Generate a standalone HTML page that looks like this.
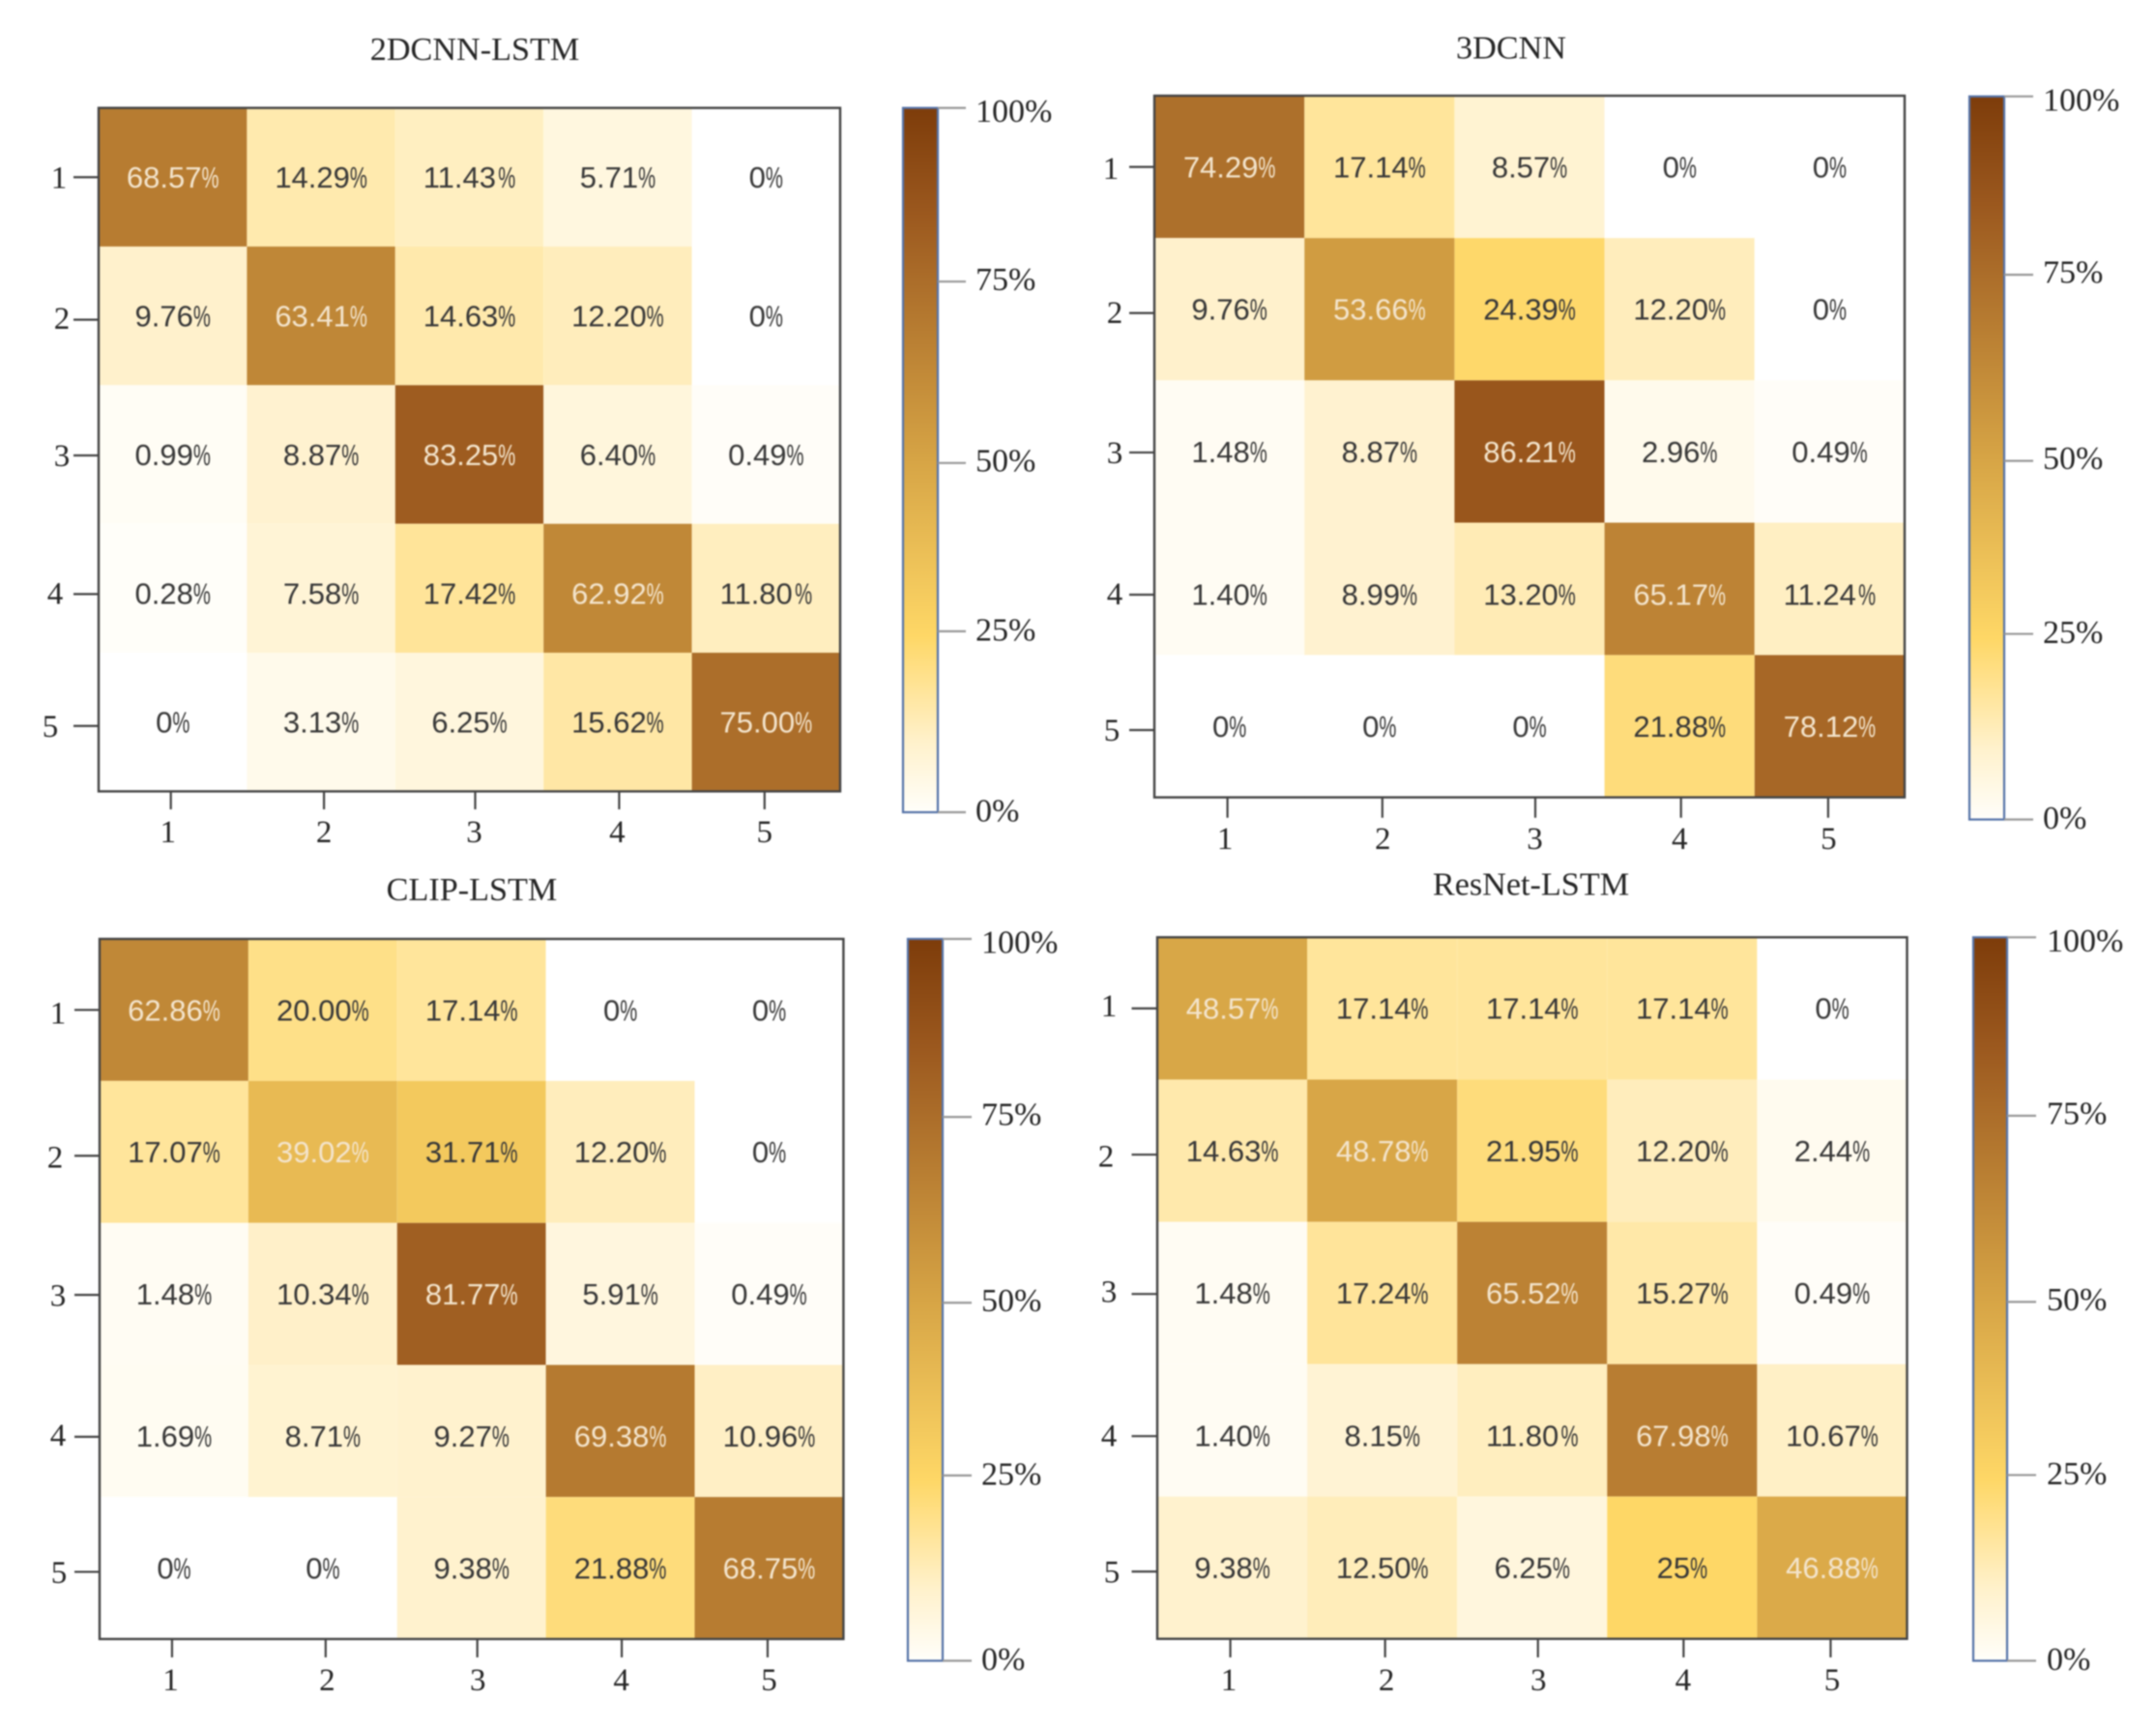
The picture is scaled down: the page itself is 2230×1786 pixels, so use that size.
<!DOCTYPE html>
<html lang="en">
<head>
<meta charset="utf-8">
<title>Confusion matrices</title>
<style>
html,body{margin:0;padding:0;background:#fff;}
#figure{display:block;width:2230px;height:1786px;filter:blur(0.7px);}
.serif{font-family:"Liberation Serif",serif;fill:#262626;}
.sans{font-family:"Liberation Sans",sans-serif;}
</style>
</head>
<body>
<svg id="figure" xmlns="http://www.w3.org/2000/svg" width="2230" height="1786" viewBox="0 0 2230 1786"></svg>
<script>
// ---- data ----
const categories = ['1', '2', '3', '4', '5'];
const colorbarTicks = [0, 25, 50, 75, 100];

const titleCnnLstm = '2DCNN-LSTM';
const values2dCnnLstm = [
  [68.57, 14.29, 11.43, 5.71, 0],
  [9.76, 63.41, 14.63, 12.20, 0],
  [0.99, 8.87, 83.25, 6.40, 0.49],
  [0.28, 7.58, 17.42, 62.92, 11.80],
  [0, 3.13, 6.25, 15.62, 75.00]
];

const title3dCnn = '3DCNN';
const values3dCnn = [
  [74.29, 17.14, 8.57, 0, 0],
  [9.76, 53.66, 24.39, 12.20, 0],
  [1.48, 8.87, 86.21, 2.96, 0.49],
  [1.40, 8.99, 13.20, 65.17, 11.24],
  [0, 0, 0, 21.88, 78.12]
];

const titleClipLstm = 'CLIP-LSTM';
const valuesClipLstm = [
  [62.86, 20.00, 17.14, 0, 0],
  [17.07, 39.02, 31.71, 12.20, 0],
  [1.48, 10.34, 81.77, 5.91, 0.49],
  [1.69, 8.71, 9.27, 69.38, 10.96],
  [0, 0, 9.38, 21.88, 68.75]
];

const titleResNetLstm = 'ResNet-LSTM';
const valuesResNetLstm = [
  [48.57, 17.14, 17.14, 17.14, 0],
  [14.63, 48.78, 21.95, 12.20, 2.44],
  [1.48, 17.24, 65.52, 15.27, 0.49],
  [1.40, 8.15, 11.80, 67.98, 10.67],
  [9.38, 12.50, 6.25, 25, 46.88]
];

// ---- colour scale ----
const colorDomain = [0, 10, 25, 50, 75, 85, 100];
const colorRange = [[255, 254, 250], [255, 241, 203], [254, 215, 102], [214, 164, 69], [172, 110, 42], [155, 88, 30], [125, 60, 10]];

function colorFor(v) {
  if (v <= 0) return '#ffffff';
  for (let i = 1; i < colorDomain.length; i++) {
    if (v <= colorDomain[i]) {
      const t = (v - colorDomain[i - 1]) / (colorDomain[i] - colorDomain[i - 1]);
      const a = colorRange[i - 1], b = colorRange[i];
      return 'rgb(' + a.map((c, k) => Math.round(c + (b[k] - c) * t)).join(',') + ')';
    }
  }
  return 'rgb(' + colorRange[colorRange.length - 1].join(',') + ')';
}

// ---- layout (not data) ----
const rowWeights = [1, 1, 1, 0.93, 1];
const rowTextBias = [0, 0, 0, 5.5, 0];
const xTickBias = [-2, 3, 6, 1.5, -1.5];
const yTickBias = [0, 4, 1, 6, 4];
const xLabelBias = [-3, 0, -1, -2, 0];
const yLabelBias = [0, -2, 0, -1, 0];
const barTickBias = [0, -5, 3, -2.5, 0];
const barLabelBias = [-2, -2, -3, -3, 3];

const panels = [
  { key: '2dcnn-lstm', title: titleCnnLstm, values: values2dCnnLstm,
    x0: 102, x1: 869, y0: 111.6, y1: 818.4, titleX: 491, titleY: 51,
    barX0: 934, barX1: 970, barY0: 111.6, barY1: 840, barTickEnd: 999, barLabelX: 1009, xTickEnd: 837, xLabelY: 860, yTickStart: 76, yLabelX: 59,
    yLabelDx: [2, 5, 5, -2, -7], yLabelDy: [0, 0, 0, 0, 0], xLabelDx: 0 },
  { key: '3dcnn', title: title3dCnn, values: values3dCnn,
    x0: 1194, x1: 1970, y0: 99, y1: 824.6, titleX: 1563, titleY: 49.5,
    barX0: 2037, barX1: 2073, barY0: 99.7, barY1: 847.5, barTickEnd: 2103, barLabelX: 2113, xTickEnd: 845.7, xLabelY: 867, yTickStart: 1168, yLabelX: 1152,
    yLabelDx: [-3, 1, 1, 1, -2], yLabelDy: [1, 1, 0, 0, 0], xLabelDx: 0.5 },
  { key: 'clip-lstm', title: titleClipLstm, values: valuesClipLstm,
    x0: 103, x1: 872.4, y0: 971, y1: 1695, titleX: 488, titleY: 920,
    barX0: 939, barX1: 975, barY0: 971, barY1: 1717.5, barTickEnd: 1005, barLabelX: 1015, xTickEnd: 1714, xLabelY: 1737, yTickStart: 77, yLabelX: 59,
    yLabelDx: [1, -2, 1, 1, 2], yLabelDy: [3, 3, 0, -1, 0], xLabelDx: 1.5 },
  { key: 'resnet-lstm', title: titleResNetLstm, values: valuesResNetLstm,
    x0: 1197, x1: 1972.5, y0: 969.3, y1: 1694.8, titleX: 1583.5, titleY: 914.6,
    barX0: 2041, barX1: 2076, barY0: 969.3, barY1: 1717.5, barTickEnd: 2106, barLabelX: 2117, xTickEnd: 1714, xLabelY: 1737, yTickStart: 1170.5, yLabelX: 1147,
    yLabelDx: [0, -3, 0, 0, 3], yLabelDy: [-3, 3, -3, 0, 0], xLabelDx: 1.5 }
];

// ---- helpers ----
const NS = 'http://www.w3.org/2000/svg';
const svg = document.getElementById('figure');

function make(tag, attrs, parent, text) {
  const node = document.createElementNS(NS, tag);
  for (const k in attrs) node.setAttribute(k, attrs[k]);
  if (text !== undefined) node.textContent = text;
  parent.appendChild(node);
  return node;
}

// band axis: index -> [start, end], bands sized by weights
function bandAxis(start, end, weights) {
  const total = weights.reduce((a, b) => a + b, 0);
  const unit = (end - start) / total;
  return function (i) {
    let s = start;
    for (let k = 0; k < i; k++) s += weights[k] * unit;
    return [s, s + weights[i] * unit];
  };
}

function linearAxis(d0, d1, r0, r1) {
  return v => r0 + (v - d0) / (d1 - d0) * (r1 - r0);
}

function formatValue(v) {
  if (v === 0 || v === 25) return v + '%';
  return v.toFixed(2) + '%';
}

const CELL_FONT = 31;
const PCT_WIDTH = 18;
const TICK_FONT = 33;
const BAR_FONT = 34;
const TITLE_FONT = 34.2;

function numberWidth(str) {
  let w = 0;
  for (const ch of str) w += (ch === '.' ? 0.278 : 0.556);
  return w * CELL_FONT;
}

// ---- draw ----
panels.forEach(function (p, pi) {
  const g = make('g', {}, svg);
  
  

  const title = make('text', { x: p.titleX, y: p.titleY + 11, 'text-anchor': 'middle', 'font-size': TITLE_FONT, class: 'serif' }, g, p.title);
  
  

  const xBand = bandAxis(p.x0, p.x1, categories.map(() => 1));
  const yBand = bandAxis(p.y0, p.y1, rowWeights);

  // cells
  p.values.forEach(function (row, r) {
    row.forEach(function (v, c) {
      const [xa, xb] = xBand(c);
      const [ya, yb] = yBand(r);
      const rect = make('rect', { x: xa, y: ya, width: xb - xa, height: yb - ya, fill: colorFor(v) }, g);
      
      
    });
  });

  // cell labels
  p.values.forEach(function (row, r) {
    row.forEach(function (v, c) {
      const [xa, xb] = xBand(c);
      const [ya, yb] = yBand(r);
      const label = formatValue(v);
      const num = label.slice(0, -1);
      const w = numberWidth(num);
      const cx = (xa + xb) / 2;
      const cy = (ya + yb) / 2 + rowTextBias[r];
      const left = cx - (w + PCT_WIDTH) / 2;
      const base = cy + CELL_FONT * 0.35;
      const fill = v >= 35 ? '#f3e4cc' : '#383838';
      const t1 = make('text', { x: left, y: base, 'font-size': CELL_FONT, fill: fill, class: 'sans' }, g, num);
      
      
      const t2 = make('text', { x: left + w, y: base, 'font-size': CELL_FONT, fill: fill, class: 'sans', textLength: PCT_WIDTH, lengthAdjust: 'spacingAndGlyphs' }, g, '%');
      
      
    });
  });

  // frame
  const frame = make('rect', { x: p.x0, y: p.y0, width: p.x1 - p.x0, height: p.y1 - p.y0, fill: 'none', stroke: '#444', 'stroke-width': 2.4 }, g);
  
  

  // axes
  categories.forEach(function (cat, i) {
    const [xa, xb] = xBand(i);
    const tx = (xa + xb) / 2 + xTickBias[i];
    const xt = make('line', { x1: tx, x2: tx, y1: p.y1, y2: p.xTickEnd, stroke: '#444', 'stroke-width': 2.2 }, g);
    
    
    const xl = make('text', { x: tx + xLabelBias[i] + p.xLabelDx, y: p.xLabelY + TICK_FONT * 0.34, 'text-anchor': 'middle', 'font-size': TICK_FONT, class: 'serif' }, g, cat);
    
    

    const [ya, yb] = yBand(i);
    const ty = (ya + yb) / 2 + yTickBias[i];
    const yt = make('line', { x1: p.yTickStart, x2: p.x0, y1: ty, y2: ty, stroke: '#444', 'stroke-width': 2.2 }, g);
    
    
    const yl = make('text', { x: p.yLabelX + p.yLabelDx[i], y: ty + yLabelBias[i] + p.yLabelDy[i] + TICK_FONT * 0.34, 'text-anchor': 'middle', 'font-size': TICK_FONT, class: 'serif' }, g, cat);
    
    
  });

  // colorbar
  const gradId = 'bar-gradient-' + pi;
  const defs = make('defs', {}, g);
  const grad = make('linearGradient', { id: gradId, x1: 0, y1: 1, x2: 0, y2: 0 }, defs);
  colorDomain.forEach(function (d, i) {
    make('stop', { offset: (d / 100), 'stop-color': 'rgb(' + colorRange[i].join(',') + ')' }, grad);
  });
  const bar = make('rect', { x: p.barX0, y: p.barY0, width: p.barX1 - p.barX0, height: p.barY1 - p.barY0, fill: 'url(#' + gradId + ')', stroke: '#5673a8', 'stroke-width': 2.2 }, g);
  
  

  const barAxis = linearAxis(0, 100, p.barY1, p.barY0);
  colorbarTicks.forEach(function (tv, i) {
    const y = barAxis(tv) + barTickBias[i];
    const tick = make('line', { x1: p.barX1, x2: p.barTickEnd, y1: y, y2: y, stroke: '#999', 'stroke-width': 2.2 }, g);
    
    
    const lab = make('text', { x: p.barLabelX, y: y + barLabelBias[i] + BAR_FONT * 0.34, 'font-size': BAR_FONT, class: 'serif' }, g, tv + '%');
    
    
  });
});
</script>
</body>
</html>
